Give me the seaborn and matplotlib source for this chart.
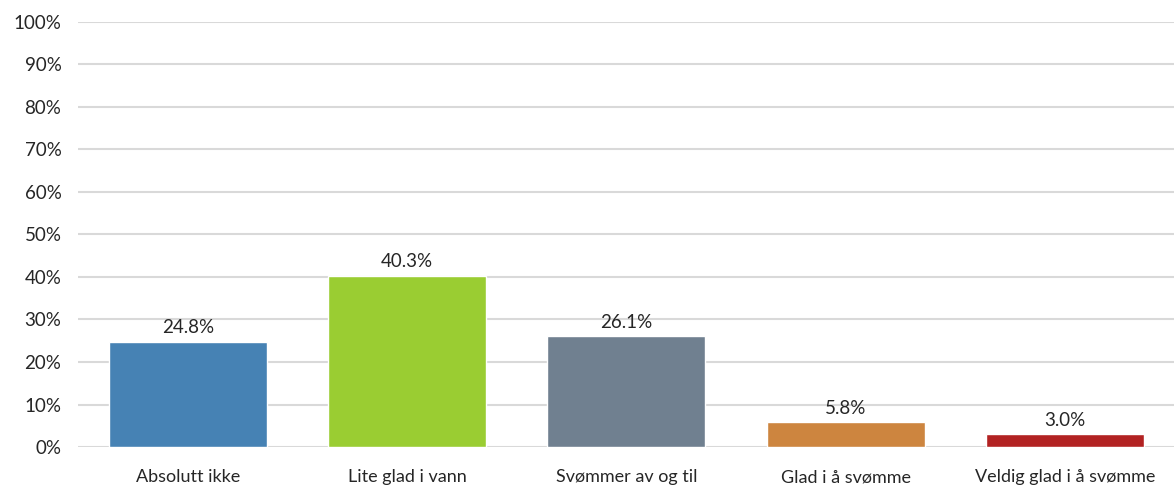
import matplotlib
matplotlib.use("Agg")
import matplotlib.pyplot as plt
import seaborn as sns
import pandas as pd
from matplotlib.ticker import PercentFormatter

categories = ["Absolutt ikke", "Lite glad i vann", "Svømmer av og til",
              "Glad i å svømme", "Veldig glad i å svømme"]
shares = [24.8, 40.3, 26.1, 5.8, 3.0]
colors = ["#4682B4", "#9ACD32", "#708090", "#CD853F", "#B22222"]

sns.set_theme(style="white")
plt.rcParams["font.family"] = ["Lato", "DejaVu Sans"]

df = pd.DataFrame({"category": categories, "share": shares})

fig = plt.figure(figsize=(11.74, 4.88), dpi=100)
ax = fig.add_axes([0.0665, 0.084, 0.934, 0.871])

sns.barplot(data=df, x="category", y="share", hue="category",
            palette=colors, width=0.72, saturation=1, legend=False, ax=ax)

ax.set_ylim(0, 100)
ax.set_yticks(range(0, 101, 10))
ax.yaxis.set_major_formatter(PercentFormatter(decimals=0))
ax.grid(axis="y", color="#d9d9d9", linewidth=1.5)
ax.set_axisbelow(True)
for s in ax.spines.values():
    s.set_visible(False)
ax.set_xlabel("")
ax.set_ylabel("")
ax.tick_params(axis="y", labelsize=13.5, colors="#262626", pad=12, length=0)
ax.tick_params(axis="x", labelsize=13, colors="#262626", pad=16, length=0)

for bar, v in zip(ax.patches, shares):
    ax.annotate(f"{v:.1f}%", (bar.get_x() + bar.get_width() / 2, v),
                xytext=(0, 4), textcoords="offset points",
                ha="center", va="bottom", fontsize=13.5, color="#262626")

fig.savefig("out.png", dpi=100)
